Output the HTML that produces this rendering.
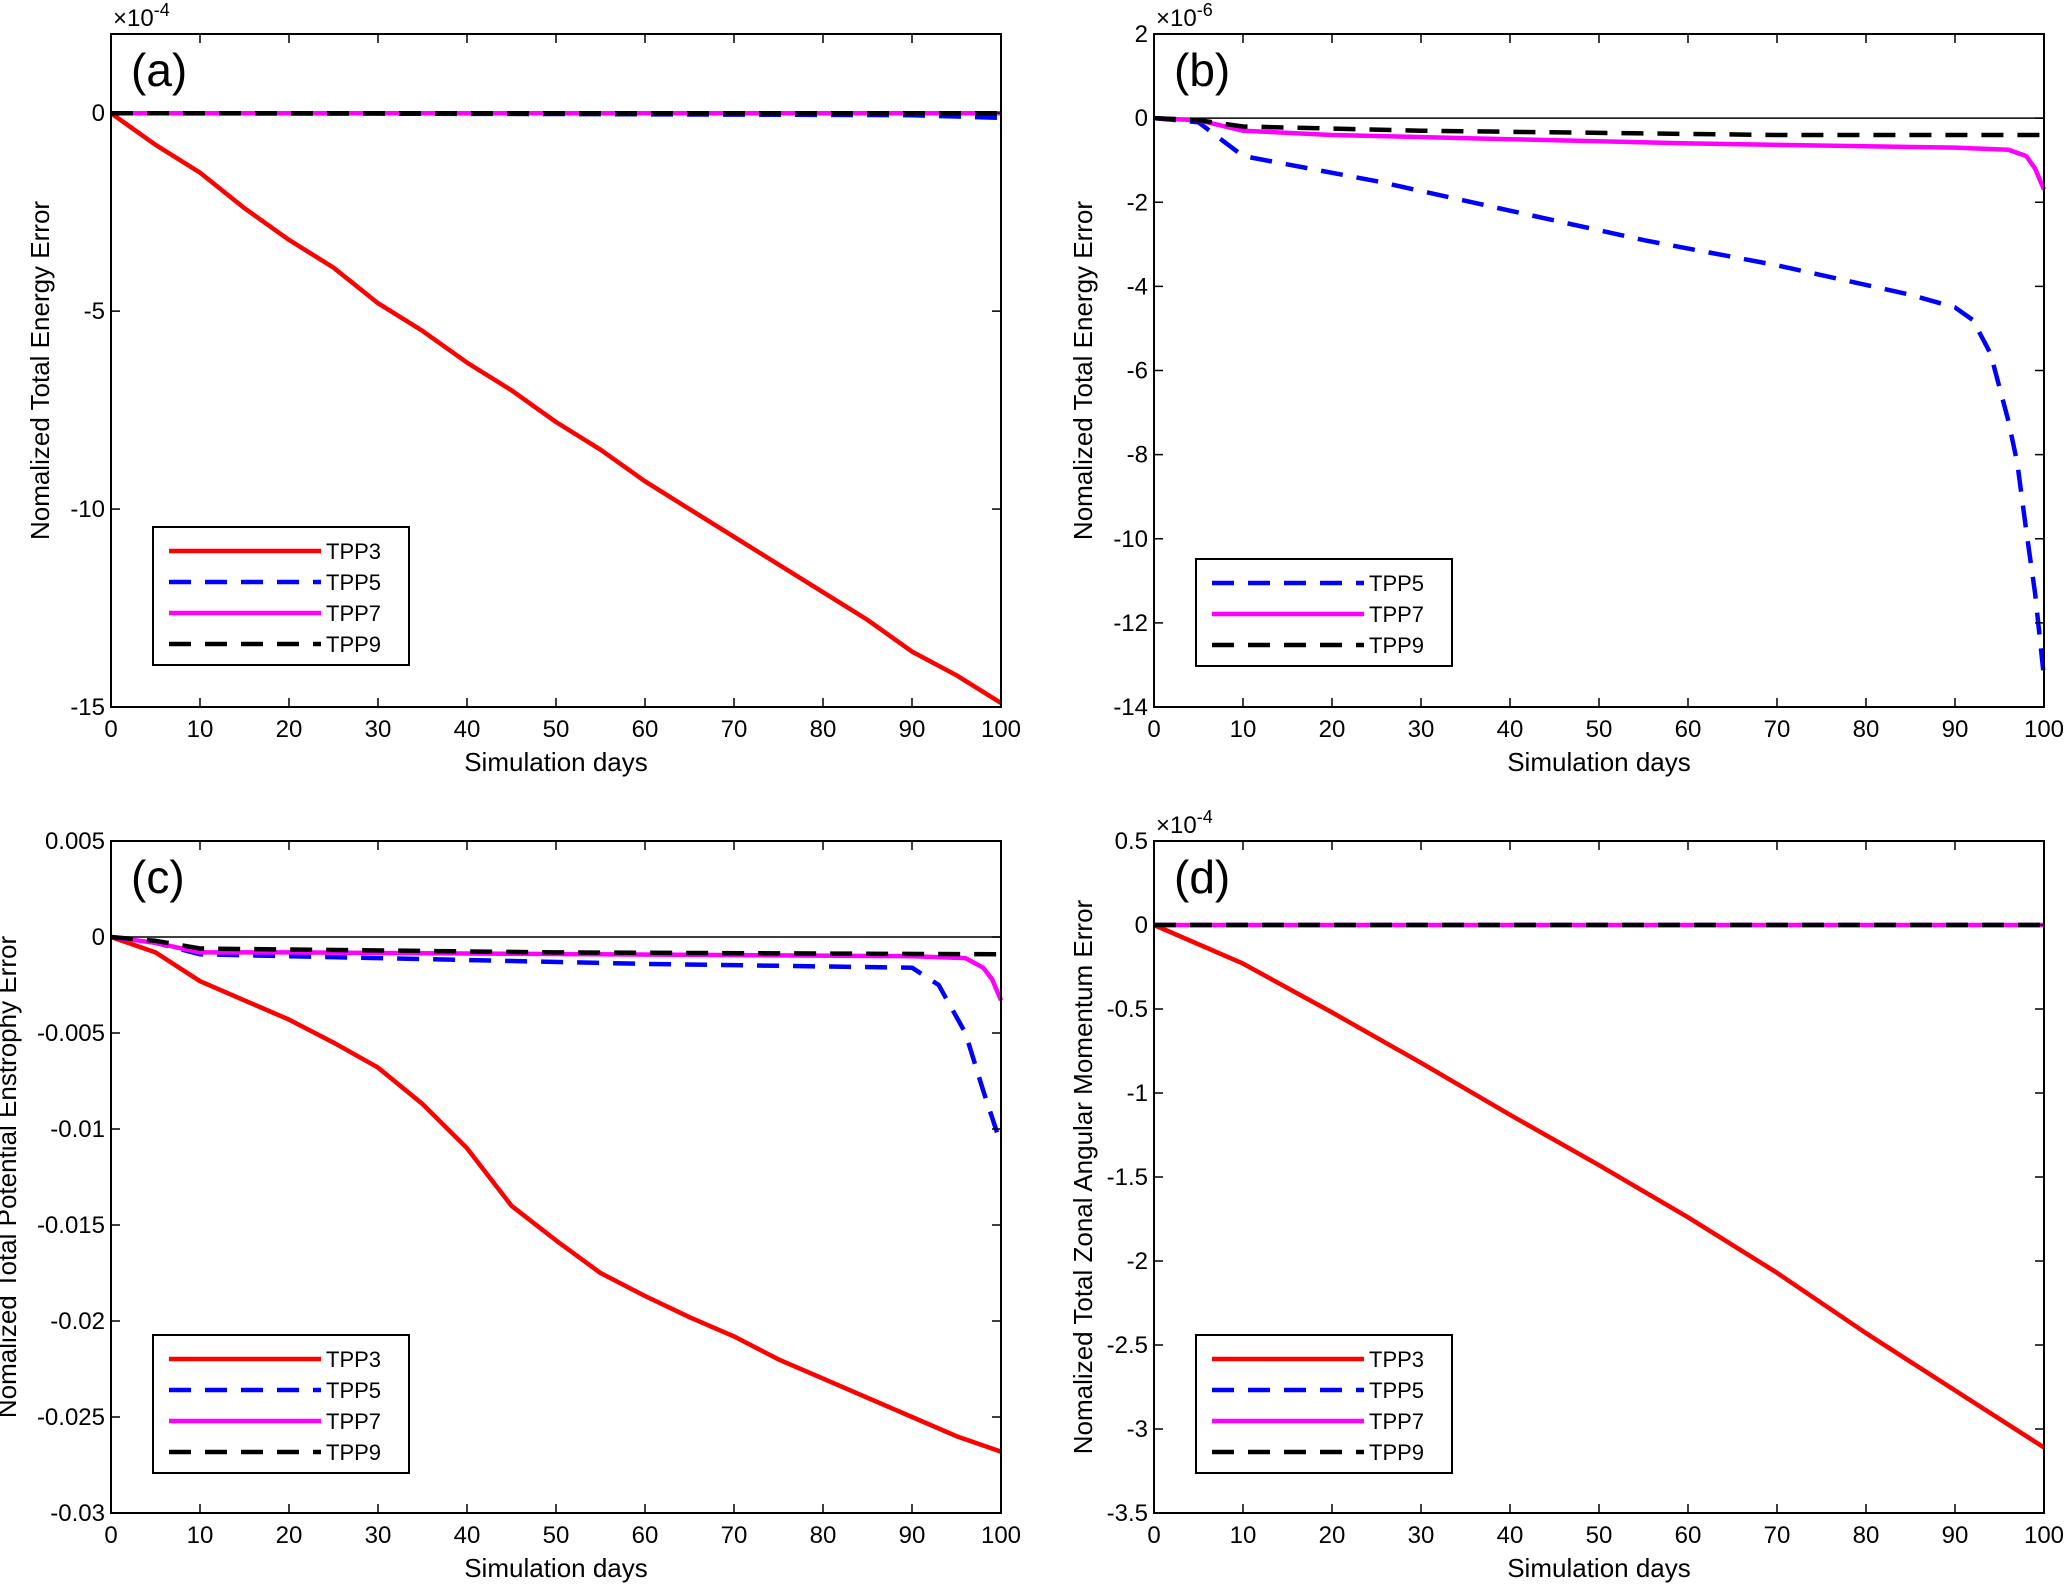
<!DOCTYPE html>
<html><head><meta charset="utf-8">
<style>
html,body{margin:0;padding:0;background:#fff;}
svg{display:block;font-family:"Liberation Sans",Arial,sans-serif;}
</style></head>
<body>
<svg id="fig" width="2066" height="1586" viewBox="0 0 2066 1586" xmlns="http://www.w3.org/2000/svg"></svg>
<script>
const days5 = [0,5,10,15,20,25,30,35,40,45,50,55,60,65,70,75,80,85,90,95,100];
const aTPP3 = [0,-0.8,-1.5,-2.4,-3.2,-3.9,-4.8,-5.5,-6.3,-7.0,-7.8,-8.5,-9.3,-10.0,-10.7,-11.4,-12.1,-12.8,-13.6,-14.2,-14.9];
const aDaysFlat = [0,50,90,100];
const aTPP5 = [0,-0.02,-0.05,-0.12];
const aTPP7 = [0,0,0,0];
const aTPP9 = [0,0,0,0];

const bDays5 = [0,5,10,25,40,55,70,85,90,92,94,96,97,98,99,100];
const bTPP5 = [0,-0.1,-0.9,-1.5,-2.2,-2.9,-3.5,-4.2,-4.5,-4.8,-5.6,-7.2,-8.2,-9.8,-11.3,-13.3];
const bDays7 = [0,5,10,20,40,60,90,96,98,99,100];
const bTPP7 = [0,-0.05,-0.3,-0.4,-0.5,-0.6,-0.7,-0.75,-0.9,-1.2,-1.7];
const bDays9 = [0,5,10,30,70,100];
const bTPP9 = [0,-0.05,-0.2,-0.3,-0.4,-0.4];

const cTPP3 = [0,-0.0008,-0.0023,-0.0033,-0.0043,-0.0055,-0.0068,-0.0087,-0.011,-0.014,-0.0158,-0.0175,-0.0187,-0.0198,-0.0208,-0.022,-0.023,-0.024,-0.025,-0.026,-0.0268];
const cDays5 = [0,5,10,30,60,90,93,96,98,100];
const cTPP5 = [0,-0.0003,-0.0009,-0.0011,-0.0014,-0.0016,-0.0025,-0.005,-0.008,-0.0108];
const cDays7 = [0,5,10,20,90,96,98,99,100];
const cTPP7 = [0,-0.0003,-0.0008,-0.0008,-0.001,-0.0011,-0.0016,-0.0022,-0.0033];
const cDays9 = [0,5,10,50,100];
const cTPP9 = [0,-0.0002,-0.0006,-0.0008,-0.0009];

const dDays = [0,10,20,30,40,50,60,70,80,90,100];
const dTPP3 = [0,-0.23,-0.52,-0.82,-1.13,-1.43,-1.74,-2.07,-2.43,-2.77,-3.11];
const dFlat = [0,0,0,0,0,0,0,0,0,0,0];

const xTicks = [0,10,20,30,40,50,60,70,80,90,100];
const aYTicks = [0,-5,-10,-15];
const aYLabels = ['0','-5','-10','-15'];
const bYTicks = [2,0,-2,-4,-6,-8,-10,-12,-14];
const bYLabels = ['2','0','-2','-4','-6','-8','-10','-12','-14'];
const cYTicks = [0.005,0,-0.005,-0.01,-0.015,-0.02,-0.025,-0.03];
const cYLabels = ['0.005','0','-0.005','-0.01','-0.015','-0.02','-0.025','-0.03'];
const dYTicks = [0.5,0,-0.5,-1,-1.5,-2,-2.5,-3,-3.5];
const dYLabels = ['0.5','0','-0.5','-1','-1.5','-2','-2.5','-3','-3.5'];

const NS='http://www.w3.org/2000/svg';
const svg=document.getElementById('fig');
function mk(tag,attrs,parent){const e=document.createElementNS(NS,tag);for(const k in attrs)e.setAttribute(k,attrs[k]);(parent||svg).appendChild(e);return e;}

const styles={
 TPP3:{stroke:'#ff0000',dash:''},
 TPP5:{stroke:'#0000ff',dash:'22,14'},
 TPP7:{stroke:'#ff00ff',dash:''},
 TPP9:{stroke:'#000000',dash:'22,14'}
};

function panel(id,box,ymin,ymax,yt,yl,exp,ylabel,ylabOff,series,legendY,legendKeys){
 const g=mk('g',{});
 
 
 const [x0,y0,x1,y1]=box;
 const X=v=>x0+(v/100)*(x1-x0);
 const Y=v=>y1-(v-ymin)/(ymax-ymin)*(y1-y0);
 const zl=mk('line',{x1:x0,x2:x1,y1:Y(0),y2:Y(0),stroke:'#000','stroke-width':1.5},g);
 
 
 series.forEach(s=>{
  const st=styles[s.name];
  let d='';
  s.x.forEach((xv,i)=>{d+=(i?'L':'M')+X(xv).toFixed(1)+','+Y(s.y[i]).toFixed(1);});
  const p=mk('path',{d:d,fill:'none',stroke:st.stroke,'stroke-width':4.5,'stroke-linejoin':'round'},g);
  if(st.dash)p.setAttribute('stroke-dasharray',st.dash);
  
  
 });
 const r=mk('rect',{x:x0,y:y0,width:x1-x0,height:y1-y0,fill:'none',stroke:'#000','stroke-width':2},g);
 
 
 xTicks.forEach(t=>{
  const xx=X(t);
  mk('line',{x1:xx,x2:xx,y1:y1,y2:y1-9,stroke:'#000','stroke-width':1.5},g);
  mk('line',{x1:xx,x2:xx,y1:y0,y2:y0+9,stroke:'#000','stroke-width':1.5},g);
  const tx=mk('text',{x:xx,y:y1+30,'font-size':24,'text-anchor':'middle'},g);
  tx.textContent=t;
  
  
 });
 yt.forEach((t,i)=>{
  const yy=Y(t);
  mk('line',{x1:x0,x2:x0+9,y1:yy,y2:yy,stroke:'#000','stroke-width':1.5},g);
  mk('line',{x1:x1,x2:x1-9,y1:yy,y2:yy,stroke:'#000','stroke-width':1.5},g);
  const tx=mk('text',{x:x0-6,y:yy+8,'font-size':24,'text-anchor':'end'},g);
  tx.textContent=yl[i];
  
  
 });
 if(exp){
  const ex=mk('text',{x:x0+2,y:y0-8,'font-size':24},g);
  ex.textContent='\u00d710';
  const sup=mk('tspan',{dy:-10,'font-size':18},ex);
  sup.textContent=exp;
  
  
 }
 const xl=mk('text',{x:(x0+x1)/2,y:y1+64,'font-size':26,'text-anchor':'middle'},g);
 xl.textContent='Simulation days';
 
 
 const cy=(y0+y1)/2, lx=x0-ylabOff;
 const yla=mk('text',{x:lx,y:cy,'font-size':26,'text-anchor':'middle',transform:'rotate(-90 '+lx+' '+cy+')'},g);
 yla.textContent=ylabel;
 
 
 const pl=mk('text',{x:x0+20,y:y0+52,'font-size':46},g);
 pl.textContent='('+id+')';
 
 
 const lg=mk('g',{},g);
 
 
 const bx=x0+42, bw=256, bh=legendKeys.length*31+14;
 mk('rect',{x:bx,y:legendY,width:bw,height:bh,fill:'#fff',stroke:'#000','stroke-width':2},lg);
 legendKeys.forEach((k,i)=>{
  const yy=legendY+24+i*31;
  const st=styles[k];
  const ln=mk('line',{x1:bx+16,x2:bx+168,y1:yy,y2:yy,stroke:st.stroke,'stroke-width':4.5},lg);
  if(st.dash)ln.setAttribute('stroke-dasharray',st.dash);
  const t=mk('text',{x:bx+173,y:yy+8,'font-size':22},lg);
  t.textContent=k;
  
  
 });
}

panel('a',[111,34,1001,707],-15,2,aYTicks,aYLabels,'-4','Nomalized Total Energy Error',62,[
 {name:'TPP3',x:days5,y:aTPP3},{name:'TPP5',x:aDaysFlat,y:aTPP5},{name:'TPP7',x:aDaysFlat,y:aTPP7},{name:'TPP9',x:aDaysFlat,y:aTPP9}],
 527,['TPP3','TPP5','TPP7','TPP9']);
panel('b',[1154,34,2044,707],-14,2,bYTicks,bYLabels,'-6','Nomalized Total Energy Error',62,[
 {name:'TPP5',x:bDays5,y:bTPP5},{name:'TPP7',x:bDays7,y:bTPP7},{name:'TPP9',x:bDays9,y:bTPP9}],
 559,['TPP5','TPP7','TPP9']);
panel('c',[111,841,1001,1513],-0.03,0.005,cYTicks,cYLabels,null,'Nomalized Total Potential Enstrophy Error',95,[
 {name:'TPP3',x:days5,y:cTPP3},{name:'TPP5',x:cDays5,y:cTPP5},{name:'TPP7',x:cDays7,y:cTPP7},{name:'TPP9',x:cDays9,y:cTPP9}],
 1335,['TPP3','TPP5','TPP7','TPP9']);
panel('d',[1154,841,2044,1513],-3.5,0.5,dYTicks,dYLabels,'-4','Nomalized Total Zonal Angular Momentum Error',62,[
 {name:'TPP3',x:dDays,y:dTPP3},{name:'TPP5',x:dDays,y:dFlat},{name:'TPP7',x:dDays,y:dFlat},{name:'TPP9',x:dDays,y:dFlat}],
 1335,['TPP3','TPP5','TPP7','TPP9']);
</script>
</body></html>
